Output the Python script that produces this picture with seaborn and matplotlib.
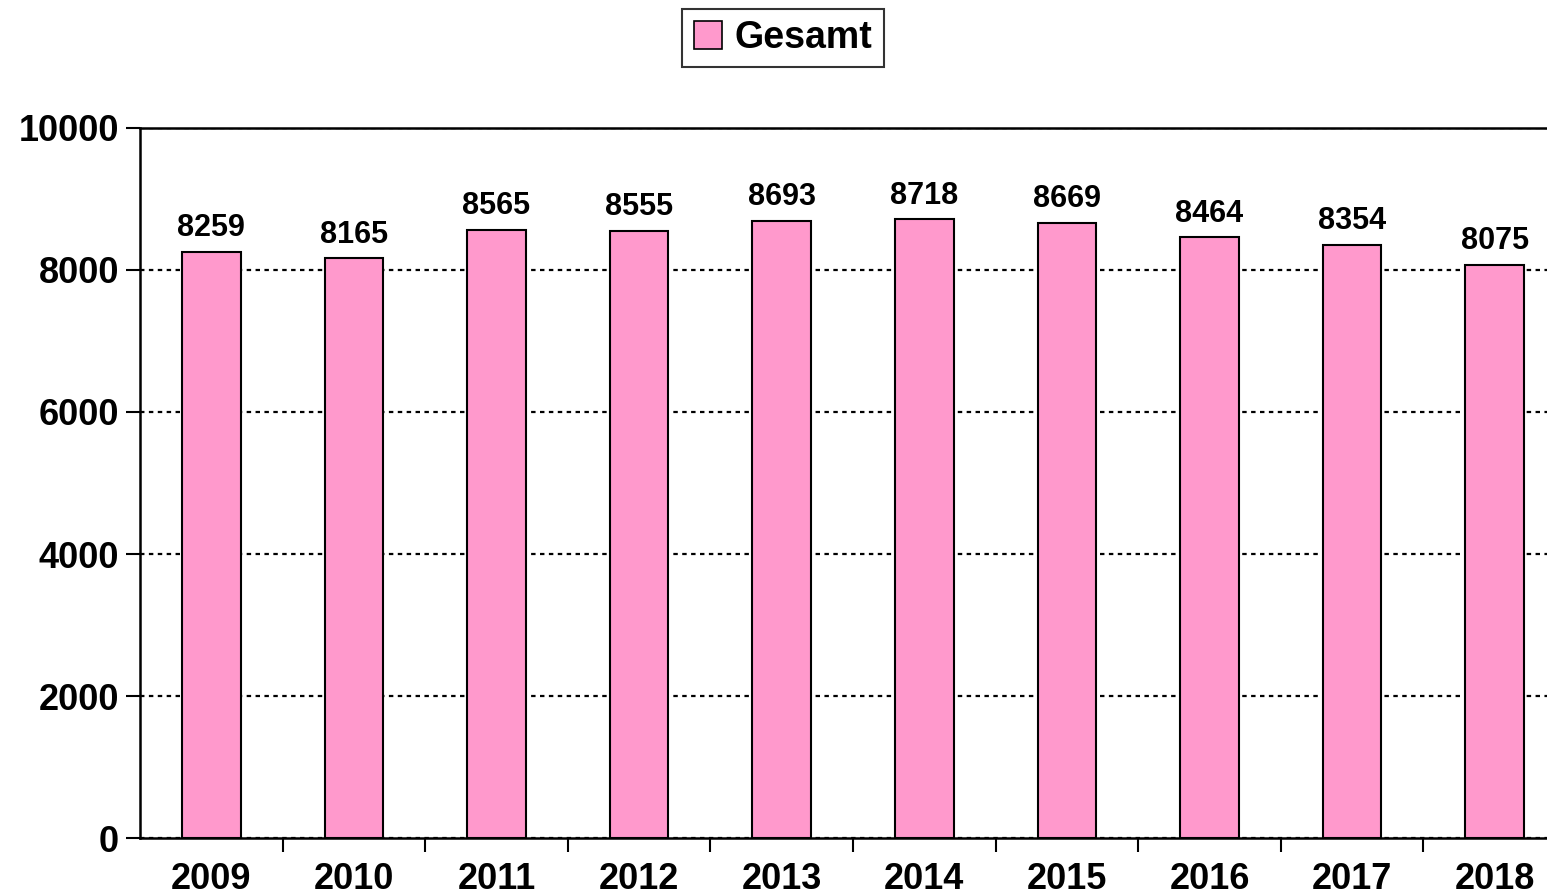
import matplotlib
matplotlib.use("Agg")
import matplotlib.pyplot as plt
from matplotlib.ticker import FixedLocator, MultipleLocator
import seaborn as sns
import pandas as pd

years = ["2009", "2010", "2011", "2012", "2013", "2014", "2015", "2016", "2017", "2018"]
gesamt = [8259, 8165, 8565, 8555, 8693, 8718, 8669, 8464, 8354, 8075]
series_name = "Gesamt"
bar_color = "#FF99CC"

sns.set_style("white")
plt.rcParams['font.family'] = ['Liberation Sans', 'DejaVu Sans']
plt.rcParams['font.weight'] = 'bold'
plt.rcParams['text.color'] = 'black'
plt.rcParams['xtick.color'] = 'black'
plt.rcParams['ytick.color'] = 'black'

df = pd.DataFrame({"year": years, "value": gesamt, "series": series_name})

fig = plt.figure(figsize=(15.47, 8.96), dpi=100)
ax = fig.add_axes([140 / 1547, 1 - 838 / 896, 1 - 140 / 1547, (838 - 128) / 896])

sns.barplot(data=df, x="year", y="value", hue="series", palette={series_name: bar_color},
            saturation=1, width=0.41, edgecolor="black", linewidth=1.5, ax=ax,
            legend=True, zorder=3)

# value labels above the bars
for i, v in enumerate(gesamt):
    ax.text(i, v + 120, str(v), ha="center", va="bottom", fontsize=22,
            fontweight="bold", color="black")

ax.set_ylim(0, 10000)
ax.set_xlim(-0.5, -0.5 + 1407 / 142.6)
ax.yaxis.set_major_locator(MultipleLocator(2000))
ax.grid(True, axis="y", color="black", linestyle=(0, (2, 2)), linewidth=1.6, zorder=1)
ax.set_axisbelow(True)

ax.set_xlabel("")
ax.set_ylabel("")
ax.tick_params(axis="y", direction="out", length=10, width=1.5, labelsize=26, pad=5, left=True)
ax.tick_params(axis="x", which="major", length=0, labelsize=26, pad=17)
ax.xaxis.set_minor_locator(FixedLocator([i + 0.5 for i in range(len(years))]))
ax.tick_params(axis="x", which="minor", direction="out", length=10, width=1.5, bottom=True)
for lbl in ax.get_xticklabels() + ax.get_yticklabels():
    lbl.set_fontweight("bold")

for side in ["left", "bottom", "top"]:
    ax.spines[side].set_visible(True)
    ax.spines[side].set_color("black")
    ax.spines[side].set_linewidth(1.8)
ax.spines["right"].set_visible(False)

ax.legend_.remove()
handles = [plt.Rectangle((0, 0), 1, 1, facecolor=bar_color, edgecolor="black", linewidth=1.2)]
leg = fig.legend(handles, [series_name], loc="center", bbox_to_anchor=(783 / 1547, 1 - 38 / 896),
                 prop={"size": 27, "weight": "bold"}, frameon=True, fancybox=False,
                 handlelength=0.75, handleheight=0.75, handletextpad=0.35, borderpad=0.3)
leg.get_frame().set_edgecolor("black")
leg.get_frame().set_linewidth(1.5)

fig.savefig("out.png", dpi=100)
